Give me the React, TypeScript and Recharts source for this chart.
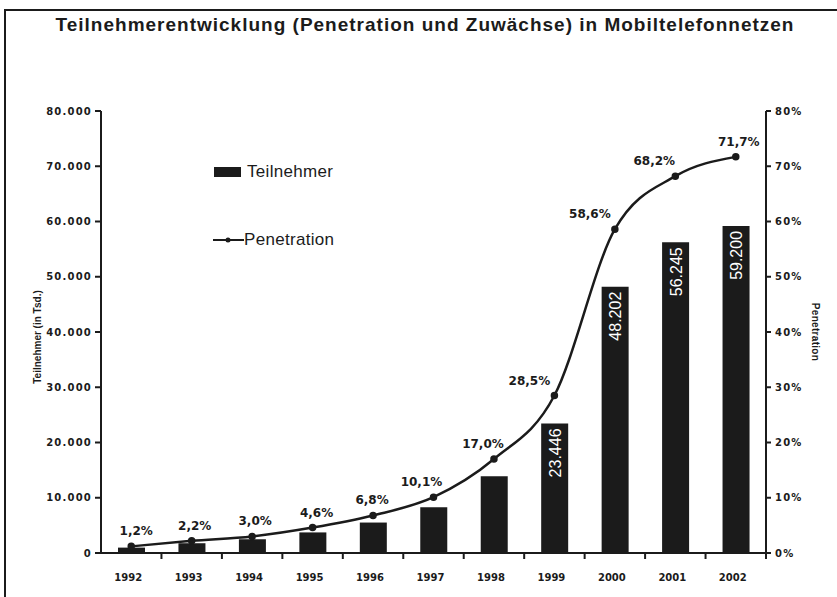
import React from "react";
import {
  ComposedChart,
  Bar,
  Line,
  XAxis,
  YAxis,
  LabelList
} from "recharts";

const years = ["1992", "1993", "1994", "1995", "1996", "1997", "1998", "1999", "2000", "2001", "2002"];
const teilnehmer = [975, 1768, 2490, 3725, 5512, 8276, 13913, 23446, 48202, 56245, 59200];
const penetration = [1.2, 2.2, 3.0, 4.6, 6.8, 10.1, 17.0, 28.5, 58.6, 68.2, 71.7];
const leftTicks = [0, 10000, 20000, 30000, 40000, 50000, 60000, 70000, 80000];
const rightTicks = [0, 10, 20, 30, 40, 50, 60, 70, 80];

// horizontal nudge of the % labels so they sit like in the scan
const pctShift = [5, 3, 3, 4, -1, -12, -11, -25, -25, -21, 3];

const data = years.map((y, i) => ({
  year: y,
  teilnehmer: teilnehmer[i],
  penetration: penetration[i]
}));

const INK = "#1b1b1b";
const FONT = "'Liberation Sans', Arial, sans-serif";
const WIDE = "'DejaVu Sans', sans-serif";

const fmtThousand = (v: number) =>
  v === 0 ? "0" : `${Math.floor(v / 1000)}.${String(v % 1000).padStart(3, "0")}`;

const fmtPct = (v: number) => `${v.toFixed(1).replace(".", ",")}%`;

const YearTick = (props: any) => {
  const { x, y, payload } = props;
  const half = 665 / years.length / 2;
  return (
    <g>
      <line x1={x + half} x2={x + half} y1={y - 8} y2={y - 2} stroke={INK} strokeWidth={2} />
      <text x={x - 3} y={y + 20} textAnchor="middle" fontSize={10} fontWeight="bold" fill={INK} fontFamily={WIDE}>
        {payload.value}
      </text>
    </g>
  );
};

const PctLabel = (props: any) => {
  const { x, y, value, index } = props;
  return (
    <text
      x={x + pctShift[index]}
      y={y - 11}
      textAnchor="middle"
      fontSize={12}
      fontWeight="bold"
      fill={INK}
      fontFamily={WIDE}
    >
      {fmtPct(value)}
    </text>
  );
};

const BarValue = (props: any) => {
  const { x, y, width, value } = props;
  if (value < 20000) return null;
  const cx = x + width / 2 + 6;
  const ty = y + 5;
  return (
    <text
      x={cx}
      y={ty}
      transform={`rotate(-90 ${cx} ${ty})`}
      textAnchor="end"
      fontSize={16}
      fill="#ffffff"
      fontFamily={FONT}
    >
      {fmtThousand(value)}
    </text>
  );
};

const tickStyle = { fontSize: 10, fontWeight: "bold", fill: INK, fontFamily: WIDE, letterSpacing: 1.2 };

export default function App() {
  return (
    <div style={{ position: "absolute", left: 0, top: 0, width: 837, height: 597, background: "#fff", fontFamily: FONT }}>
      <div style={{ position: "absolute", left: 4, top: 9, right: 0, bottom: 0, borderLeft: `2px solid ${INK}`, borderTop: `2px solid ${INK}` }} />
      <div style={{ position: "absolute", left: 0, width: 850, top: 14, textAlign: "center", fontSize: 19, fontWeight: "bold", letterSpacing: 1.0, color: INK }}>
        Teilnehmerentwicklung (Penetration und Zuwächse) in Mobiltelefonnetzen
      </div>

      <ComposedChart
        width={837}
        height={597}
        data={data}
        margin={{ top: 111, right: 0, left: 0, bottom: 0 }}
      >
        <XAxis
          dataKey="year"
          height={44}
          axisLine={{ stroke: INK, strokeWidth: 2 }}
          tickLine={false}
          tick={<YearTick />}
          interval={0}
        />
        <YAxis
          yAxisId="left"
          width={101}
          domain={[0, 80000]}
          ticks={leftTicks}
          tickFormatter={fmtThousand}
          axisLine={{ stroke: INK, strokeWidth: 2 }}
          tickLine={{ stroke: INK, strokeWidth: 2 }}
          tickSize={6}
          tickMargin={3}
          tick={tickStyle}
        />
        <YAxis
          yAxisId="right"
          orientation="right"
          width={71}
          domain={[0, 80]}
          ticks={rightTicks}
          tickFormatter={(v: number) => `${v}%`}
          axisLine={{ stroke: INK, strokeWidth: 2 }}
          tickLine={{ stroke: INK, strokeWidth: 2 }}
          tickSize={5}
          tickMargin={4}
          tick={tickStyle}
        />
        <Bar yAxisId="left" dataKey="teilnehmer" fill={INK} barSize={27} isAnimationActive={false}>
          <LabelList dataKey="teilnehmer" content={<BarValue />} />
        </Bar>
        <Line
          yAxisId="right"
          type="monotone"
          dataKey="penetration"
          stroke={INK}
          strokeWidth={2.5}
          dot={{ r: 2.5, fill: INK, stroke: INK }}
          isAnimationActive={false}
        >
          <LabelList dataKey="penetration" content={<PctLabel />} />
        </Line>
      </ComposedChart>

      {/* legend */}
      <div style={{ position: "absolute", left: 214, top: 167, width: 27, height: 10, background: INK }} />
      <div style={{ position: "absolute", left: 247, top: 162, fontSize: 17, letterSpacing: 0.3, color: INK }}>Teilnehmer</div>
      <svg style={{ position: "absolute", left: 212, top: 234 }} width={34} height={12}>
        <line x1={1} x2={32} y1={6} y2={6} stroke={INK} strokeWidth={2} />
        <circle cx={16} cy={6} r={2.5} fill={INK} />
      </svg>
      <div style={{ position: "absolute", left: 244, top: 230, fontSize: 17, letterSpacing: 0.3, color: INK }}>Penetration</div>

      {/* axis titles */}
      <div style={{ position: "absolute", left: 37, top: 337, transform: "translate(-50%, -50%) rotate(-90deg)", fontSize: 10, fontWeight: "bold", color: INK, whiteSpace: "nowrap" }}>
        Teilnehmer (in Tsd.)
      </div>
      <div style={{ position: "absolute", left: 815, top: 332, transform: "translate(-50%, -50%) rotate(90deg)", fontSize: 10, fontWeight: "bold", letterSpacing: 0.3, color: INK, whiteSpace: "nowrap" }}>
        Penetration
      </div>
    </div>
  );
}
